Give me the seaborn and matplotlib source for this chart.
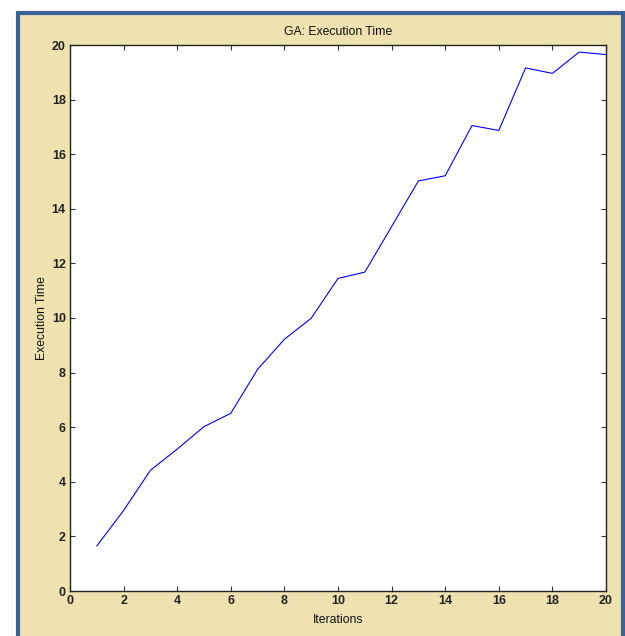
import matplotlib
matplotlib.use("Agg")
import matplotlib.pyplot as plt
import seaborn as sns
import pandas as pd
from matplotlib.patches import Rectangle

iterations = list(range(1, 21))
exec_time = [1.65, 2.95, 4.42, 5.2, 6.02, 6.51, 8.12, 9.22, 9.99, 11.45,
             11.68, 13.35, 15.02, 15.21, 17.05, 16.87, 19.16, 18.96, 19.74, 19.65]
x_ticks = list(range(0, 21, 2))
y_ticks = list(range(0, 21, 2))

sns.set_theme(style="white")
plt.rcParams['font.family'] = ['Liberation Sans', 'DejaVu Sans']

fig = plt.figure(figsize=(6.25, 6.36), dpi=100)
fig.patch.set_facecolor("white")
bg = Rectangle((18/625, -0.05), (623-18)/625, 1 - 13/636 + 0.05,
               transform=fig.transFigure, facecolor="#EEE2B0",
               edgecolor="#3B6196", linewidth=3, zorder=-10)
fig.patches.append(bg)

ax = fig.add_axes([70/625, 1 - 591/636, (606-70)/625, (591-45)/636])
ax.set_facecolor("white")
df = pd.DataFrame({"Iterations": iterations, "Execution Time": exec_time})
sns.lineplot(data=df, x="Iterations", y="Execution Time", ax=ax,
             color="#0000FF", linewidth=0.8)
ax.set_xlim(0, 20)
ax.set_ylim(0, 20)
ax.set_xticks(x_ticks)
ax.set_yticks(y_ticks)
ax.tick_params(direction="in", length=3.5, width=0.8, color="#333333",
               top=True, right=True, bottom=True, left=True,
               labelsize=9, labelcolor="#222222", pad=3)
for lab in ax.get_xticklabels() + ax.get_yticklabels():
    lab.set_fontweight("bold")
for s in ax.spines.values():
    s.set_visible(True)
    s.set_color("#222222")
    s.set_linewidth(1.0)
ax.set_title("GA: Execution Time", fontsize=8.8, color="#111111", pad=7)
ax.set_xlabel("Iterations", fontsize=8.8, color="#111111", labelpad=5)
ax.set_ylabel("Execution Time", fontsize=8.8, color="#111111", labelpad=2.5)

fig.savefig("out.png", dpi=100)
